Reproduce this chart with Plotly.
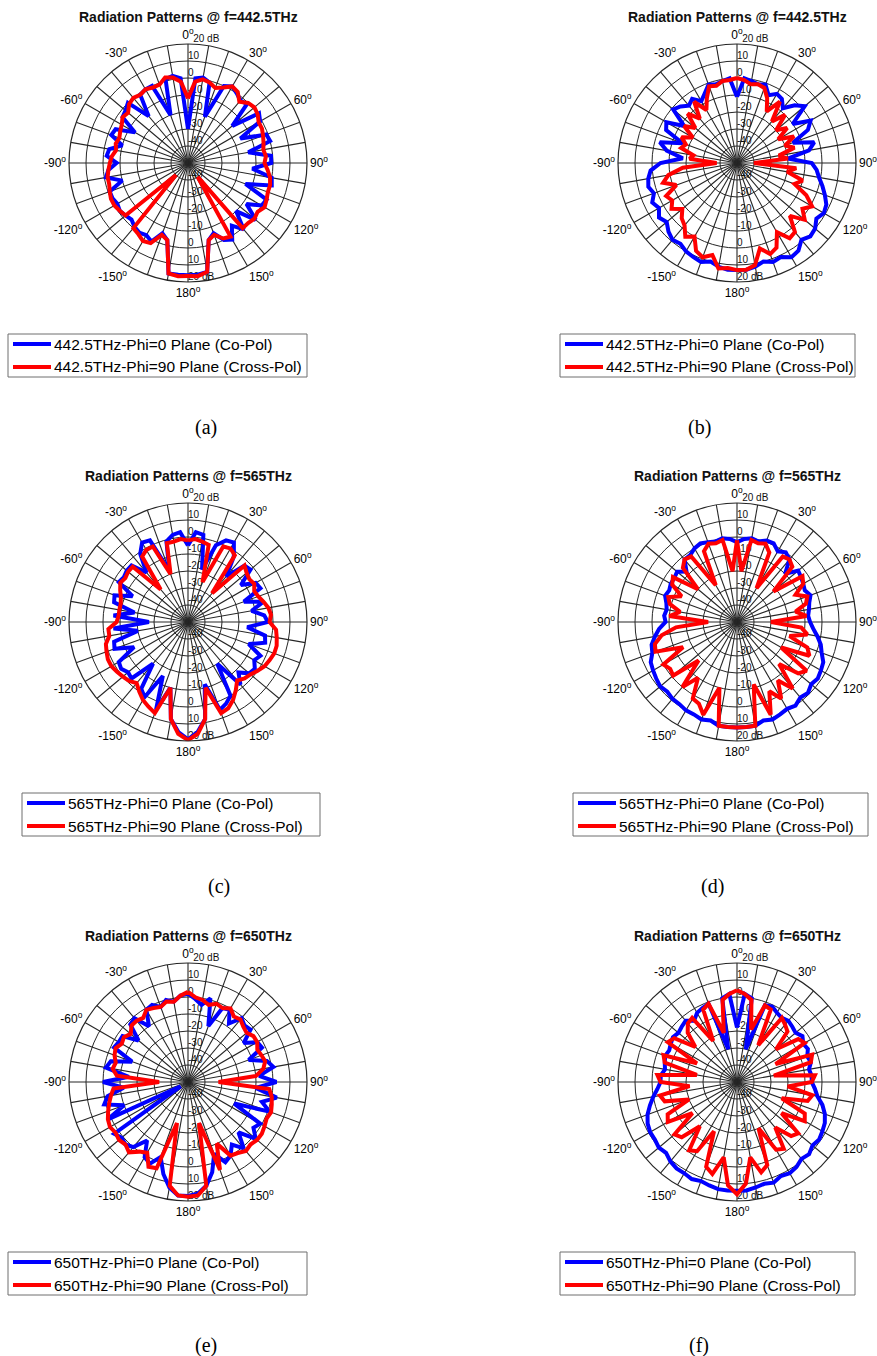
import numpy as np
import plotly.graph_objects as go

# Angles in degrees: 0 at top, clockwise positive, negative on the left side
THETA = list(range(0, 181, 5)) + list(range(-5, -176, -5))

FREQ_LABELS = ["442.5THz", "442.5THz", "565THz", "565THz", "650THz", "650THz"]
CAPTIONS = ["(a)", "(b)", "(c)", "(d)", "(e)", "(f)"]
RING_VALUES = [20, 10, 0, -10, -20, -30, -40]
RING_TEXT = ["20 dB", "10", "0", "-10", "-20", "-30", "-40"]
ANGLE_TICKS = list(range(0, 360, 30))
ANGLE_TEXT = ["0", "30", "60", "90", "120", "150", "180", "-150", "-120", "-90", "-60", "-30"]
SPOKE_ANGLES = list(range(0, 360, 10))

# Gain (dB) per panel; first 37 values cover 0..180 deg, next 35 cover -5..-175 deg
co_a = [-30, 0, 1, -1, -21, 0, 2, 0, -2, -1, -16, 1, -1, -16, -1, 0, -14, -1, -1, -12, 0, 1, -14, 1, 0, -8, 2, -10, 1, -5, 2, 0, -6, -3, 15, 16, 16,
        0, 2, 1, -20, 0, 0, -1, -14, 0, -2, -3, -14, -3, -2, -10, -3, -2, -8, -3, -1, -10, -1, -1, -2, -1, -2, -3, -1, 0, -1, 1, -6, -3, 16, 16]
cx_a = [-12, -2, 0, -1, -3, -1, 2, 1, -3, 0, 1, 0, -2, -2, -3, -4, -5, -4, -5, -3, -1, 0, 0, 1, 2, 0, 1, 0, 0, -40, 0, -1, -5, -3, 15, 16.8, 16.5,
        -2, 1, 2, -1, -1, 0, -1, 0, -1, -4, -3, -5, -6, -7, -6, -7, -5, -4, -3, -2, -2, -1, 0, 0, -1, -2, -40, 0, 1, 3, 2, -5, -3, 16, 16.8]

co_b = [-11, 0, -1, -2, -1, -6, -3, -4, -8, -2, 2, -10, 0, -4, -15, -3, -7, -20, -6, -3, -1, 2, 5, 8, 9, 7, 10, 11, 9, 13, 14, 11, 12, 10, 12, 13, 13,
        0, -1, -2, -1, -5, -8, -4, -6, -3, -1, -12, -2, -4, -16, -3, -8, -18, -5, 1, 3, 4, 2, 5, 3, 6, 4, 7, 9, 8, 10, 11, 12, 10, 12, 13]
cx_b = [0, -1, -3, -2, -3, -8, -15, -6, -18, -10, -20, -14, -22, -13, -20, -15, -25, -20, -40, -15, -20, -10, -14, -5, 1, -3, 2, -6, 3, 4, -3, 5, 7, 2, 11, 13, 13,
        -1, -1, -3, -2, -8, -14, -6, -16, -9, -18, -12, -20, -14, -18, -16, -24, -22, -38, -18, -9, -5, -12, -4, -6, -3, -8, -4, -2, 3, 0, 7, 9, 6, 13, 12]

co_c = [-5, 3, 2, -18, -2, 3, 4, -3, -15, -3, -2, -12, -4, -3, -15, -4, -12, -5, -3, -15, -4, -3, -12, -3, -5, -2, -3, -8, -2, -20, 0, 3, 5, -12, 8, 15, 19,
        3, 2, -1, -18, 3, 4, -1, -12, -3, -3, -4, -3, -14, -4, -5, -18, -6, -27, -6, -20, -5, -4, -15, -3, -2, -4, -3, -18, -2, 1, -15, 5, -10, 8, 15]
cx_c = [-2, -1, -2, -3, -25, -1, 0, -2, -28, -3, -5, -6, -5, -7, -6, -4, -2, -1, -2, 2, 3, 4, 4, 3, 2, 0, -2, -3, -5, -1, 3, 6, 7, -10, 8, 16, 19.5,
        -1, -2, -2, -20, -1, -1, -3, -25, -4, -4, -5, -4, -6, -8, -9, -9, -9, -8, -3, -3, 0, 1, 2, 2, 1, 0, -1, -3, 0, 3, 5, 7, -10, 8, 16]

co_d = [-3, -1, 0, -1, 1, 1, -2, 0, -2, -10, -3, -4, -5, -6, -4, -6, -7, -8, -7, -5, -2, 1, 3, 6, 7, 8, 7, 9, 8, 10, 9, 10, 11, 10, 12, 12, 12,
        -1, 0, -1, 0, 1, 0, -2, -2, -8, -4, -5, -5, -6, -5, -7, -8, -7, -8, -4, -1, 2, 3, 6, 7, 8, 9, 8, 9, 9, 10, 10, 11, 10, 12, 12]
cx_d = [-2, -20, -1, -2, -1, -5, -27, -3, -2, -4, -22, -3, -5, -12, -6, -8, -15, -9, -30, -12, -8, -18, -6, -3, -20, 0, -3, -15, 1, -8, 2, -5, 8, -12, 12, 12, 12,
        -20, -1, -2, -1, -4, -25, -3, -2, -5, -20, -4, -6, -14, -7, -9, -16, -10, -33, -14, -5, 0, 1, -15, 0, -2, -1, -18, 0, -10, 2, 3, 8, -10, 12, 12]

co_e = [2, -1, -4, 1, -15, -2, -1, -8, -1, -3, -2, -10, -3, -2, -12, -2, 1, -8, 2, -10, 3, -5, 1, -20, -1, -3, 2, -8, 1, -5, 0, 2, -5, 5, 12, 16, 17,
        1, -2, 0, -3, 0, -1, -10, -1, -2, -12, -3, -3, -2, -15, -3, -1, -15, 0, -12, -2, 1, -10, 2, -45, 3, 1, 2, 0, -8, 1, 3, -3, 6, 13, 17]
cx_e = [3, 0, -1, -3, -1, -2, 0, -3, -2, -4, -5, -3, -3, -5, -4, -3, -5, -10, -32, -2, 0, 1, 2, 1, 2, 3, 3, 2, 3, 1, 0, -10, 5, -25, 12, 17, 17.5,
        1, -2, -1, -3, -2, -1, -4, -3, -3, -6, -4, -5, -3, -4, -6, -5, -8, -33, -6, -4, -2, 0, 2, 3, 2, 3, 2, 4, 0, -2, 5, 4, -25, 12, 17]

co_f = [-18, 2, 0, -30, -2, -1, -3, -4, -3, -4, -5, -3, -5, -4, -6, -5, -7, -6, -6, -4, -2, 2, 5, 7, 8, 9, 8, 10, 9, 11, 12, 11, 13, 12, 13, 14, 14,
        2, 0, -30, -1, -2, -3, -6, -3, -4, -5, -4, -5, -6, -5, -6, -7, -5, -5, -3, 0, 3, 6, 8, 9, 9, 10, 9, 11, 12, 12, 13, 12, 13, 14, 14]
cx_f = [4, 2, -1, -18, -2, -3, -25, -4, -6, -8, -20, -6, -4, -25, -3, -5, -28, -4, -6, -20, -5, -7, -22, -6, -4, -18, -3, -5, -15, -2, -4, -20, 2, 5, -5, 10, 16,
        2, -1, -20, -1, -3, -22, -4, -5, -9, -18, -5, -3, -24, -4, -6, -26, -3, -5, -22, -4, -6, -20, -5, -3, -18, -2, -4, -16, -1, -3, -18, 3, 6, -5, 11]

CO_POL = [co_a, co_b, co_c, co_d, co_e, co_f]
CROSS_POL = [cx_a, cx_b, cx_c, cx_d, cx_e, cx_f]

# Page geometry (pixels)
W, H = 877, 1356
R = 119
CENTERS = [(188, 163), (737, 163), (188, 622), (737, 622), (188, 1082), (737, 1082)]
LEGEND_BOX = [(8, 334, 299), (560, 334, 295), (22, 793, 298), (573, 793, 295), (8, 1252, 299), (560, 1252, 295)]
CAPTION_POS = [(206, 427), (699, 427), (219, 886), (712, 886), (206, 1345), (699, 1345)]

GRID = "#262626"
BLUE = "#0000FF"
RED = "#FF0000"
SANS = "Liberation Sans, Arial, sans-serif"


def closed_curve(values):
    th = np.array(THETA, dtype=float)
    r = np.array(values, dtype=float)
    order = np.argsort(np.mod(th, 360))
    th, r = th[order], r[order]
    return np.append(th, th[0]), np.append(r, r[0])


def px_x(x):
    return x / W


def px_y(y):
    return 1 - y / H


fig = go.Figure()
annotations = []
shapes = []
layout = {}

# spokes every 10 degrees, from the centre to the outer ring
spoke_theta, spoke_r = [], []
for a in SPOKE_ANGLES:
    spoke_theta += [a, a, None]
    spoke_r += [-50, 20, None]

# ring labels sit just right of the vertical spoke; the outer top one is nudged
# clockwise so it clears the 0-degree label
label_theta = [2.5] + [0] * 6 + [180] * 7

for i, (cx, cy) in enumerate(CENTERS):
    polar_key = "polar" if i == 0 else f"polar{i + 1}"
    freq = FREQ_LABELS[i]

    fig.add_trace(go.Scatterpolar(
        r=spoke_r, theta=spoke_theta, mode="lines",
        line=dict(color=GRID, width=1.1),
        hoverinfo="skip", showlegend=False, subplot=polar_key,
    ))

    fig.add_trace(go.Scatterpolar(
        r=RING_VALUES + RING_VALUES,
        theta=label_theta,
        text=RING_TEXT + RING_TEXT,
        mode="text",
        textposition="top right",
        textfont=dict(family=SANS, size=10, color="#111111"),
        cliponaxis=False,
        hoverinfo="skip",
        showlegend=False,
        subplot=polar_key,
    ))

    th, r = closed_curve(CO_POL[i])
    fig.add_trace(go.Scatterpolar(
        r=r, theta=th, mode="lines",
        line=dict(color=BLUE, width=4),
        name=f"{freq}-Phi=0 Plane (Co-Pol)",
        subplot=polar_key, showlegend=False,
    ))
    th, r = closed_curve(CROSS_POL[i])
    fig.add_trace(go.Scatterpolar(
        r=r, theta=th, mode="lines",
        line=dict(color=RED, width=4),
        name=f"{freq}-Phi=90 Plane (Cross-Pol)",
        subplot=polar_key, showlegend=False,
    ))

    layout[polar_key] = dict(
        domain=dict(x=[px_x(cx - R), px_x(cx + R)], y=[px_y(cy + R), px_y(cy - R)]),
        bgcolor="white",
        angularaxis=dict(
            rotation=90, direction="clockwise",
            tickmode="array",
            tickvals=ANGLE_TICKS,
            ticktext=[f"{t}<sup>o</sup>" for t in ANGLE_TEXT],
            ticks="", showgrid=False,
            showline=True, linecolor=GRID, linewidth=1.2,
            tickfont=dict(family=SANS, size=12, color="black"),
        ),
        radialaxis=dict(
            range=[-50, 20], tickmode="array", tickvals=[-40, -30, -20, -10, 0, 10, 20],
            showticklabels=False, ticks="", showline=False,
            gridcolor=GRID, gridwidth=1, angle=90,
        ),
    )

    # boxed legend below each pattern
    lx, ly, lw = LEGEND_BOX[i]
    shapes.append(dict(type="rect", xref="paper", yref="paper",
                       x0=px_x(lx), x1=px_x(lx + lw), y0=px_y(ly + 43), y1=px_y(ly),
                       line=dict(color="#6e6e6e", width=1), fillcolor="white", layer="above"))
    entries = [(f"{freq}-Phi=0 Plane (Co-Pol)", BLUE, 10), (f"{freq}-Phi=90 Plane (Cross-Pol)", RED, 33)]
    for label, color, dy in entries:
        shapes.append(dict(type="line", xref="paper", yref="paper",
                           x0=px_x(lx + 5), x1=px_x(lx + 43), y0=px_y(ly + dy), y1=px_y(ly + dy),
                           line=dict(color=color, width=4), layer="above"))
        annotations.append(dict(
            x=px_x(lx + 44), y=px_y(ly + dy), xref="paper", yref="paper",
            text=label, showarrow=False, xanchor="left", yanchor="middle",
            font=dict(family=SANS, size=15.5, color="black"),
        ))

    annotations.append(dict(
        x=px_x(cx), y=px_y(cy - 146), xref="paper", yref="paper",
        text=f"<b>Radiation Patterns @ f={freq}</b>", showarrow=False,
        font=dict(family=SANS, size=14, color="#111111"),
        xanchor="center", yanchor="middle",
    ))
    px, py = CAPTION_POS[i]
    annotations.append(dict(
        x=px_x(px), y=px_y(py), xref="paper", yref="paper",
        text=CAPTIONS[i], showarrow=False,
        font=dict(family="Liberation Serif, DejaVu Serif, serif", size=20, color="black"),
        xanchor="center", yanchor="middle",
    ))

fig.update_layout(
    width=W, height=H,
    margin=dict(l=0, r=0, t=0, b=0),
    paper_bgcolor="white",
    showlegend=False,
    annotations=annotations,
    shapes=shapes,
    **layout,
)

fig.write_html("out.html")
